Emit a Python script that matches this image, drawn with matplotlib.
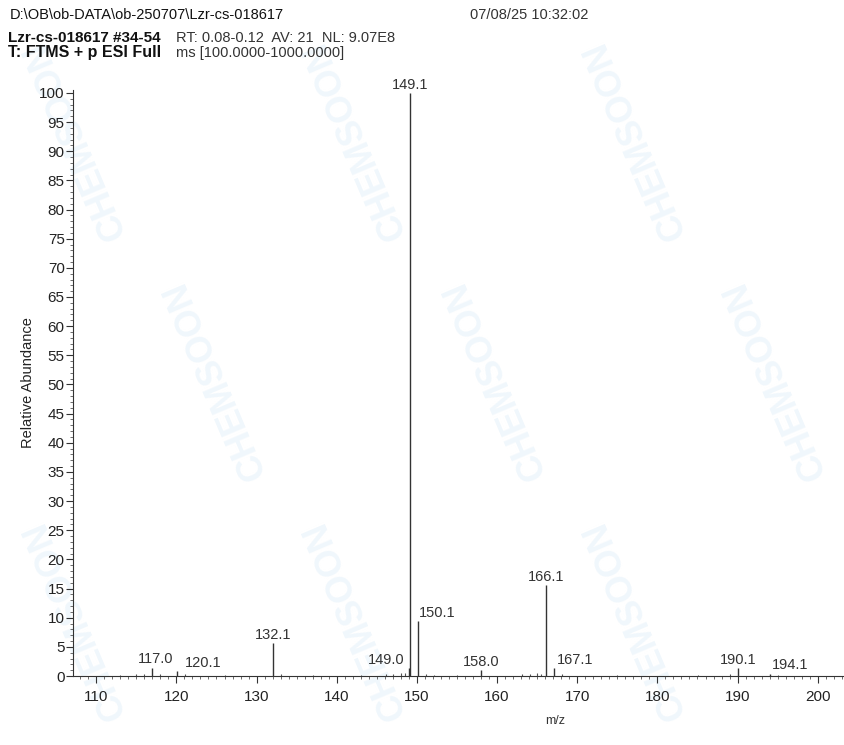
import matplotlib
matplotlib.use("Agg")
import matplotlib.pyplot as plt
from matplotlib.ticker import MultipleLocator

plt.rcParams["font.family"] = ["Liberation Sans", "DejaVu Sans"]

# labelled peaks (m/z, relative abundance)
peak_mz = [117.0, 120.1, 132.1, 149.0, 149.1, 150.1, 158.0, 166.1, 167.1, 190.1, 194.1]
peak_int = [1.4, 0.8, 5.6, 1.3, 100.0, 9.4, 1.0, 15.6, 1.3, 1.3, 0.4]
peak_labels = ["117.0", "120.1", "132.1", "149.0", "149.1", "150.1",
               "158.0", "166.1", "167.1", "190.1", "194.1"]
# label offsets in m/z units (labels not always centred over the line)
label_dx = [0.4, 3.2, 0.0, -2.8, 0.0, 2.4, 0.0, 0.0, 2.6, 0.0, 2.4]

# small unlabelled peaks along the baseline
noise_mz = [113.0, 115.0, 116.0, 118.0, 121.1, 126.0, 133.1, 137.1, 143.0,
            146.1, 147.0, 148.0, 148.5, 151.1, 152.1, 155.0, 163.1, 164.1,
            165.0, 165.5, 168.1, 175.0, 185.1, 189.0, 195.1]
noise_int = [0.2, 0.3, 0.4, 0.3, 0.3, 0.2, 0.4, 0.2, 0.2,
             0.3, 0.4, 0.5, 0.6, 0.4, 0.2, 0.2, 0.3, 0.4,
             0.5, 0.4, 0.3, 0.2, 0.2, 0.3, 0.2]

header_path = "D:\\OB\\ob-DATA\\ob-250707\\Lzr-cs-018617"
header_date = "07/08/25 10:32:02"

fig = plt.figure(figsize=(8.45, 7.45), dpi=100)
W, H = 845, 745

# faint scanner watermark
for cx, cy in [(215, 380), (495, 380), (775, 380), (355, 140), (635, 140),
               (75, 140), (355, 620), (635, 620), (75, 620)]:
    fig.text(cx / W, 1 - cy / H, "CHEMSOON", rotation=113, fontsize=26,
             fontweight="bold", color="#f0f7fc", ha="center", va="center", zorder=0)

ax = fig.add_axes([73 / W, 1 - 676 / H, (W - 73) / W, (676 - 90) / H])
ax.set_zorder(1)
ax.patch.set_alpha(0)

ax.vlines(noise_mz, 0, noise_int, color="#555555", lw=0.8)
ax.vlines(peak_mz, 0, peak_int, color="#333333", lw=1.0)

for mz, inten, lab, dx in zip(peak_mz, peak_int, peak_labels, label_dx):
    ax.annotate(lab, (mz + dx, inten), xytext=(0, 1), textcoords="offset points",
                ha="center", va="bottom", fontsize=10.5, color="#333333")

ax.set_xlim(107.1, 203.4)
ax.set_ylim(0, 100.5)
ax.spines["top"].set_visible(False)
ax.spines["right"].set_visible(False)
ax.spines["left"].set_color("#333333")
ax.spines["bottom"].set_color("#333333")

ax.xaxis.set_major_locator(MultipleLocator(10))
ax.xaxis.set_minor_locator(MultipleLocator(1))
ax.yaxis.set_major_locator(MultipleLocator(5))
ax.yaxis.set_minor_locator(MultipleLocator(1))
ax.tick_params(which="major", length=5, width=0.8, color="#333333",
               labelsize=11, labelcolor="#222222")
ax.tick_params(which="minor", length=2.5, width=0.6, color="#555555")
ax.tick_params(axis="x", pad=5)
ax.tick_params(axis="y", pad=1)

ax.set_xlabel("m/z", fontsize=9, color="#333333")
ax.xaxis.set_label_coords((555 - 73) / (W - 73), -(715 - 676) / (676 - 90))
ax.set_ylabel("Relative Abundance", fontsize=10.5, color="#222222", labelpad=3)

# header lines
fig.text(10 / W, 1 - 15 / H, header_path, fontsize=10.5, va="center", color="#111111")
fig.text(470 / W, 1 - 15 / H, header_date, fontsize=10.5, va="center", color="#333333")
fig.text(8 / W, 1 - 38 / H, "Lzr-cs-018617 #34-54", fontsize=11, va="center",
         fontweight="bold", color="#111111")
fig.text(176 / W, 1 - 38 / H, "RT: 0.08-0.12  AV: 21  NL: 9.07E8", fontsize=10.5,
         va="center", color="#333333")
fig.text(8 / W, 1 - 53 / H, "T: FTMS + p ESI Full", fontsize=11.5, va="center",
         fontweight="bold", color="#111111")
fig.text(176 / W, 1 - 53 / H, "ms [100.0000-1000.0000]", fontsize=10.5,
         va="center", color="#333333")

fig.savefig("out.png", dpi=100)
